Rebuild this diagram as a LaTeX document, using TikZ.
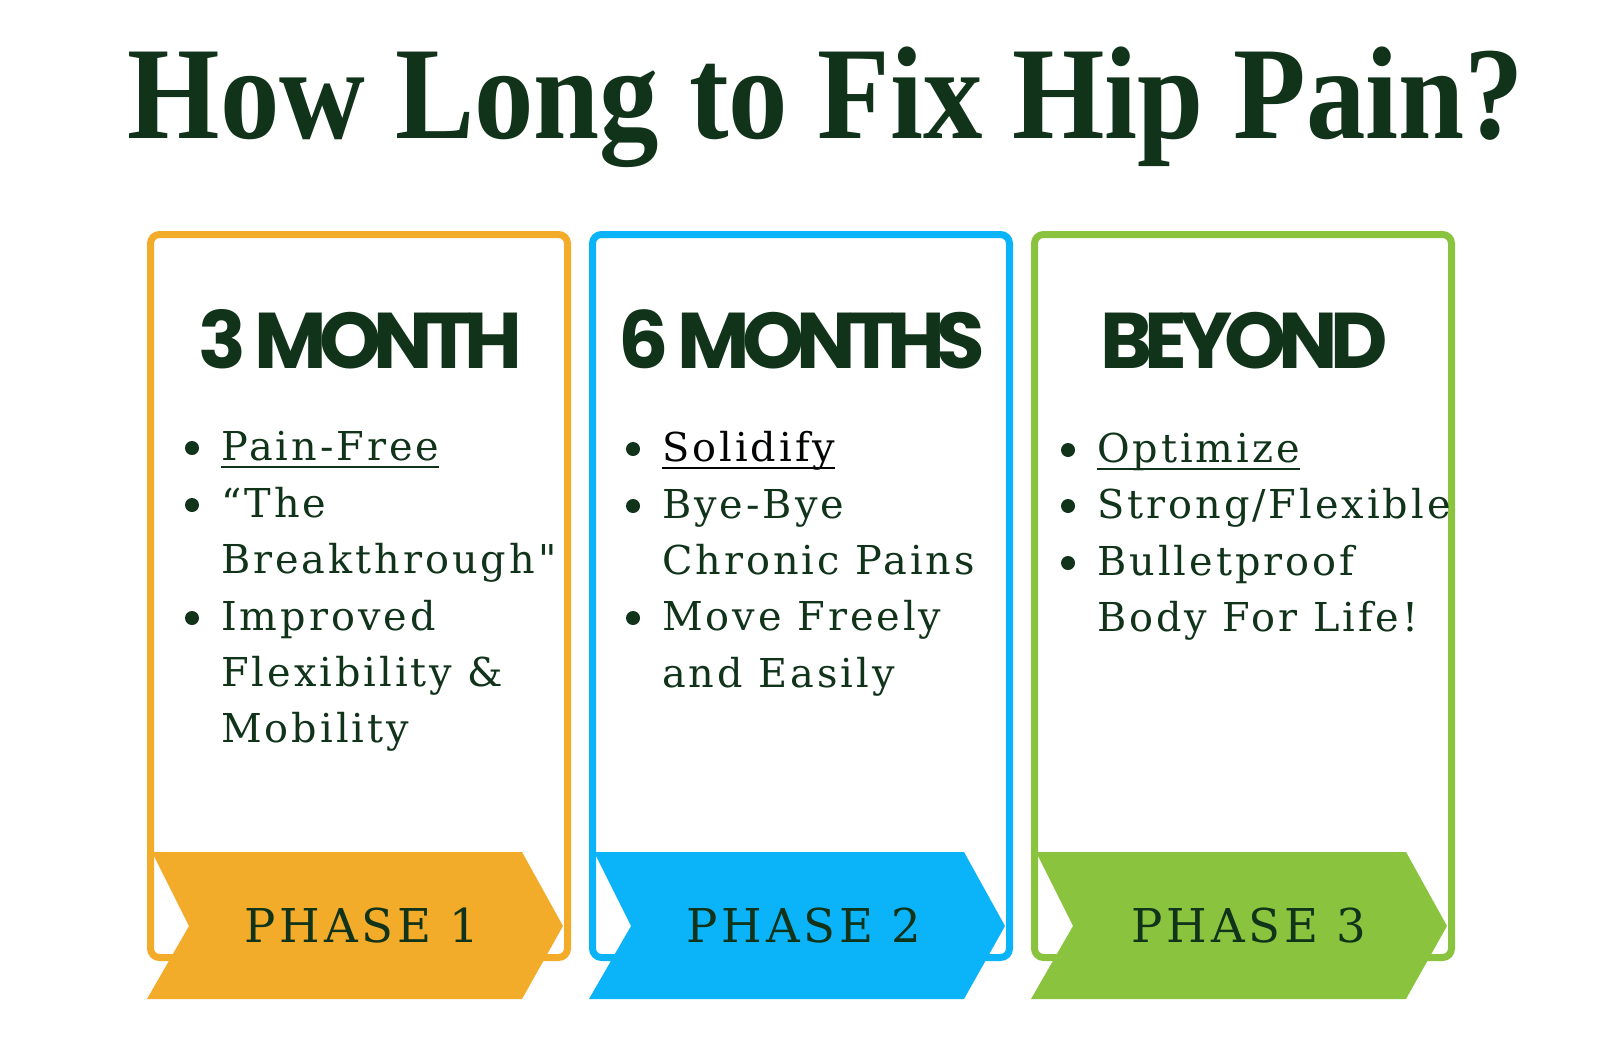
\documentclass[tikz,border=0pt]{standalone}
\usepackage{fontspec}
\setmainfont{DejaVu Serif}
\newfontfamily\titlefont{Liberation Serif}[FakeStretch=0.9]
\newfontfamily\headfont{Poppins}[LetterSpace=-10]
\newfontfamily\bodyfont{DejaVu Serif}[LetterSpace=7.5]
\newfontfamily\phasefont{DejaVu Serif}[LetterSpace=8]
\definecolor{dkgreen}{HTML}{10331A}
\definecolor{orng}{HTML}{F2AC2A}
\definecolor{skyb}{HTML}{0BB4F8}
\definecolor{lgrn}{HTML}{8AC43F}
\newcommand\myul[1]{\setbox0=\hbox{#1}\rlap{\rule[-8pt]{\wd0}{2.2pt}}#1}
\tikzset{
  card/.style={line width=7pt, rounded corners=9pt},
  titletext/.style={inner sep=0, anchor=base, text=dkgreen, font=\titlefont\bfseries\fontsize{132}{132}\selectfont},
  headtext/.style={inner sep=0, anchor=base, text=dkgreen, font=\headfont\bfseries\fontsize{79}{79}\selectfont},
  bodytext/.style={inner sep=0, anchor=base west, text=dkgreen, font=\bodyfont\fontsize{39.8}{48}\selectfont},
  phasetext/.style={inner sep=0, anchor=base, text=dkgreen, font=\phasefont\fontsize{46.6}{48}\selectfont},
  bul/.style={fill=dkgreen}
}
\begin{document}
\begin{tikzpicture}[x=1pt,y=-1pt]
\useasboundingbox (0,0) rectangle (1600,1060);
\fill[white] (0,0) rectangle (1600,1060);

\node[titletext] (title) at (826,138) {How Long to Fix Hip Pain?};

% cards
\foreach \L/\c in {147/orng,589/skyb,1031/lgrn}{
  \draw[card, draw=\c] (\L+3.5,234.5) rectangle (\L+420.5,957.5);
  \fill[\c] (\L+5,852) -- (\L+375,852) -- (\L+416,926) -- (\L+375,999) -- (\L,999) -- (\L+42,926) -- cycle;
}

% headings
\node[headtext] (h1) at (360,368) {3 MONTH};
\node[headtext] (h2) at (802,368) {6 MONTHS};
\node[headtext] (h3) at (1244,368) {BEYOND};

% phase labels
\node[phasetext] (p1) at (362,942) {PHASE 1};
\node[phasetext] (p2) at (804,942) {PHASE 2};
\node[phasetext] (p3) at (1249,942) {PHASE 3};

% card 1 list
\node[bodytext] (a1) at (221,460) {\myul{Pain-Free}};
\node[bodytext] (a2) at (221,517) {“The};
\node[bodytext] (a3) at (221,573) {Breakthrough"};
\node[bodytext] (a4) at (221,630) {Improved};
\node[bodytext] (a5) at (221,686) {Flexibility \&};
\node[bodytext] (a6) at (221,742) {Mobility};
\fill[bul] (192,448) circle (7);
\fill[bul] (192,505) circle (7);
\fill[bul] (192,618) circle (7);

% card 2 list
\node[bodytext, text=black!90!dkgreen] (b1) at (662,461) {\myul{Solidify}};
\node[bodytext] (b2) at (662,518) {Bye-Bye};
\node[bodytext] (b3) at (662,574) {Chronic Pains};
\node[bodytext] (b4) at (662,630) {Move Freely};
\node[bodytext] (b5) at (662,687) {and Easily};
\fill[bul] (633,449) circle (7);
\fill[bul] (633,506) circle (7);
\fill[bul] (633,618) circle (7);

% card 3 list
\node[bodytext] (c1) at (1097,462) {\myul{Optimize}};
\node[bodytext] (c2) at (1097,518) {Strong/Flexible};
\node[bodytext] (c3) at (1097,575) {Bulletproof};
\node[bodytext] (c4) at (1097,631) {Body For Life!};
\fill[bul] (1068,450) circle (7);
\fill[bul] (1068,506) circle (7);
\fill[bul] (1068,563) circle (7);
\end{tikzpicture}
\end{document}
